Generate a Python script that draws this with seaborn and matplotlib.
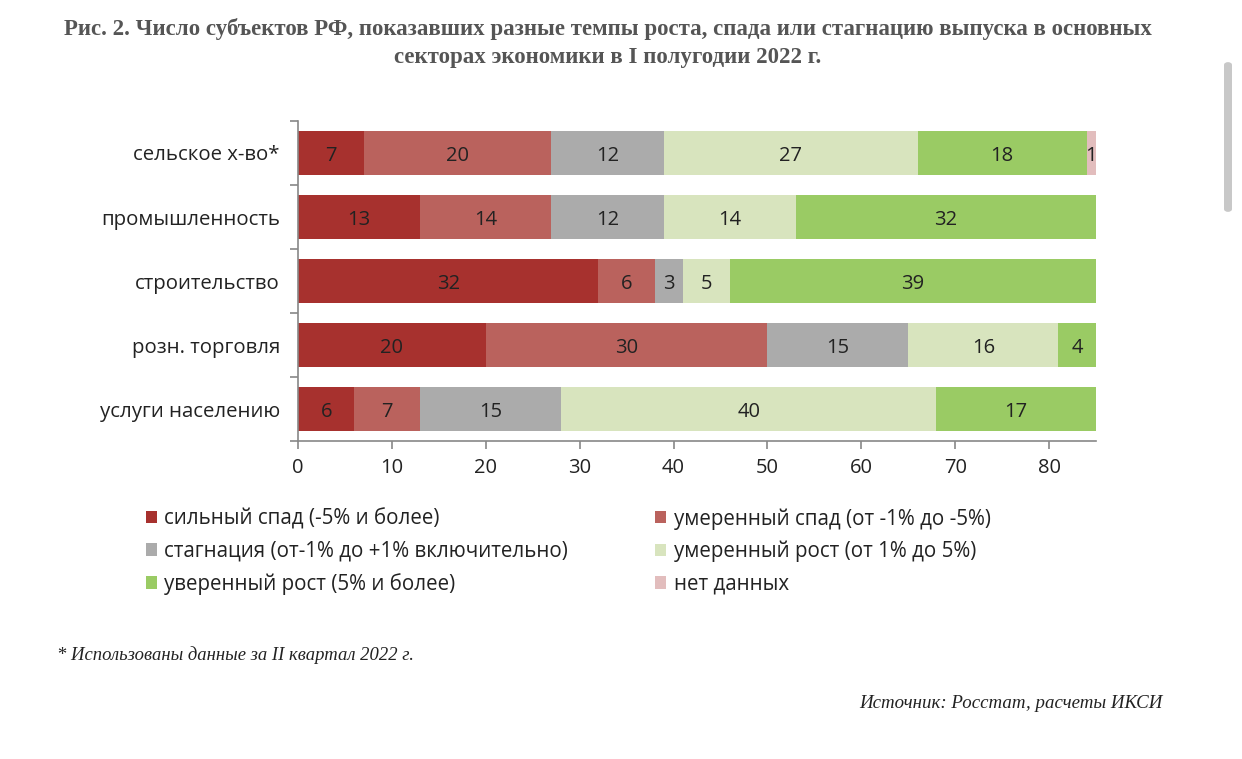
import numpy as np
import pandas as pd
import matplotlib
matplotlib.use("Agg")
import matplotlib.pyplot as plt
import seaborn as sns
from matplotlib.patches import Patch, FancyBboxPatch

sectors = ["сельское х-во*", "промышленность", "строительство", "розн. торговля", "услуги населению"]
series_names = [
    "сильный спад (-5% и более)",
    "умеренный спад (от -1% до -5%)",
    "стагнация (от-1% до +1% включительно)",
    "умеренный рост (от 1% до 5%)",
    "уверенный рост (5% и более)",
    "нет данных",
]
strong_decline = [7, 13, 32, 20, 6]
moderate_decline = [20, 14, 6, 30, 7]
stagnation = [12, 12, 3, 15, 15]
moderate_growth = [27, 14, 5, 16, 40]
strong_growth = [18, 32, 39, 4, 17]
no_data = [1, 0, 0, 0, 0]
x_ticks = [0, 10, 20, 30, 40, 50, 60, 70, 80]

colors = ["#A7312E", "#BA625D", "#ABABAB", "#D8E4BE", "#9ACB64", "#E2BDBD"]

sns.set_style("white")
plt.rcParams["font.family"] = ["Open Sans", "DejaVu Sans"]

fig = plt.figure(figsize=(12.42, 7.59), dpi=100)
ax = fig.add_axes([298 / 1242, 1 - 441 / 759, (1096 - 298) / 1242, 320 / 759])

series = [strong_decline, moderate_decline, stagnation, moderate_growth, strong_growth, no_data]
vals = np.array(series, dtype=float)
cums = np.cumsum(vals, axis=0)

# draw cumulative bars from the largest to smallest so each segment shows
for i in range(len(series) - 1, -1, -1):
    df = pd.DataFrame({"sector": sectors, "value": cums[i]})
    sns.barplot(data=df, x="value", y="sector", orient="h", color=colors[i],
                width=0.6875, saturation=1, ax=ax, errorbar=None, linewidth=0)

for i in range(len(series)):
    for j in range(len(sectors)):
        v = vals[i, j]
        if v > 0:
            ax.text(cums[i, j] - v / 2, j + 0.04, f"{int(v)}", ha="center", va="center",
                    fontsize=14.5, color="#222222")

ax.set_xlim(0, 85)
ax.set_ylim(4.5, -0.5)
ax.set_xticks(x_ticks)
ax.set_xlabel("")
ax.set_ylabel("")
ax.tick_params(axis="x", labelsize=14.5, colors="#222222", length=6, width=1.2, color="#888888", direction="out", bottom=True, pad=6)
ax.tick_params(axis="y", labelsize=14.7, labelcolor="#222222", length=0, pad=13)
ax.set_yticks(np.arange(-0.5, 5.0, 1.0), minor=True)
ax.tick_params(axis="y", which="minor", length=6, width=1.2, color="#888888", direction="out", left=True)
for s in ["top", "right"]:
    ax.spines[s].set_visible(False)
for s in ["left", "bottom"]:
    ax.spines[s].set_color("#888888")
    ax.spines[s].set_linewidth(1.2)
ax.grid(False)

# Title
fig.text(608 / 1242, 1 - 29 / 759, "Рис. 2. Число субъектов РФ, показавших разные темпы роста, спада или стагнацию выпуска в основных",
         ha="center", va="center", fontsize=16.5, fontweight="bold", family=["Liberation Serif", "DejaVu Serif"], color="#555555")
fig.text(608 / 1242, 1 - 57 / 759, "секторах экономики в I полугодии 2022 г.",
         ha="center", va="center", fontsize=16.5, fontweight="bold", family=["Liberation Serif", "DejaVu Serif"], color="#555555")

# Legends (row-wise order in two columns)
handles = [Patch(facecolor=c, edgecolor="none") for c in colors]
leg_kw = dict(loc="upper left", frameon=False, fontsize=14.8, handlelength=0.55, handleheight=0.55,
              handletextpad=0.35, labelspacing=0.55, borderaxespad=0, borderpad=0)
leg1 = fig.legend([handles[k] for k in (0, 2, 4)], [series_names[k] for k in (0, 2, 4)],
                  bbox_to_anchor=(146 / 1242, 1 - 508 / 759), **leg_kw)
leg2 = fig.legend([handles[k] for k in (1, 3, 5)], [series_names[k] for k in (1, 3, 5)],
                  bbox_to_anchor=(655 / 1242, 1 - 508 / 759), **leg_kw)
for leg in (leg1, leg2):
    for t in leg.get_texts():
        t.set_color("#222222")

# Footnotes
fig.text(57 / 1242, 1 - 655 / 759, "* Использованы данные за II квартал 2022 г.", ha="left", va="center",
         fontsize=13.4, style="italic", family=["Liberation Serif", "DejaVu Serif"], color="#222222")
fig.text(1163 / 1242, 1 - 703 / 759, "Источник: Росстат, расчеты ИКСИ", ha="right", va="center",
         fontsize=13.6, style="italic", family=["Liberation Serif", "DejaVu Serif"], color="#222222")

# scrollbar artifact of the screenshot
fig.patches.append(FancyBboxPatch((1224 / 1242, 1 - 212 / 759), 8 / 1242, 150 / 759,
                                  boxstyle="round,pad=0,rounding_size=0.004", transform=fig.transFigure,
                                  facecolor="#C8C8C8", edgecolor="none"))

fig.savefig("out.png", dpi=100)
